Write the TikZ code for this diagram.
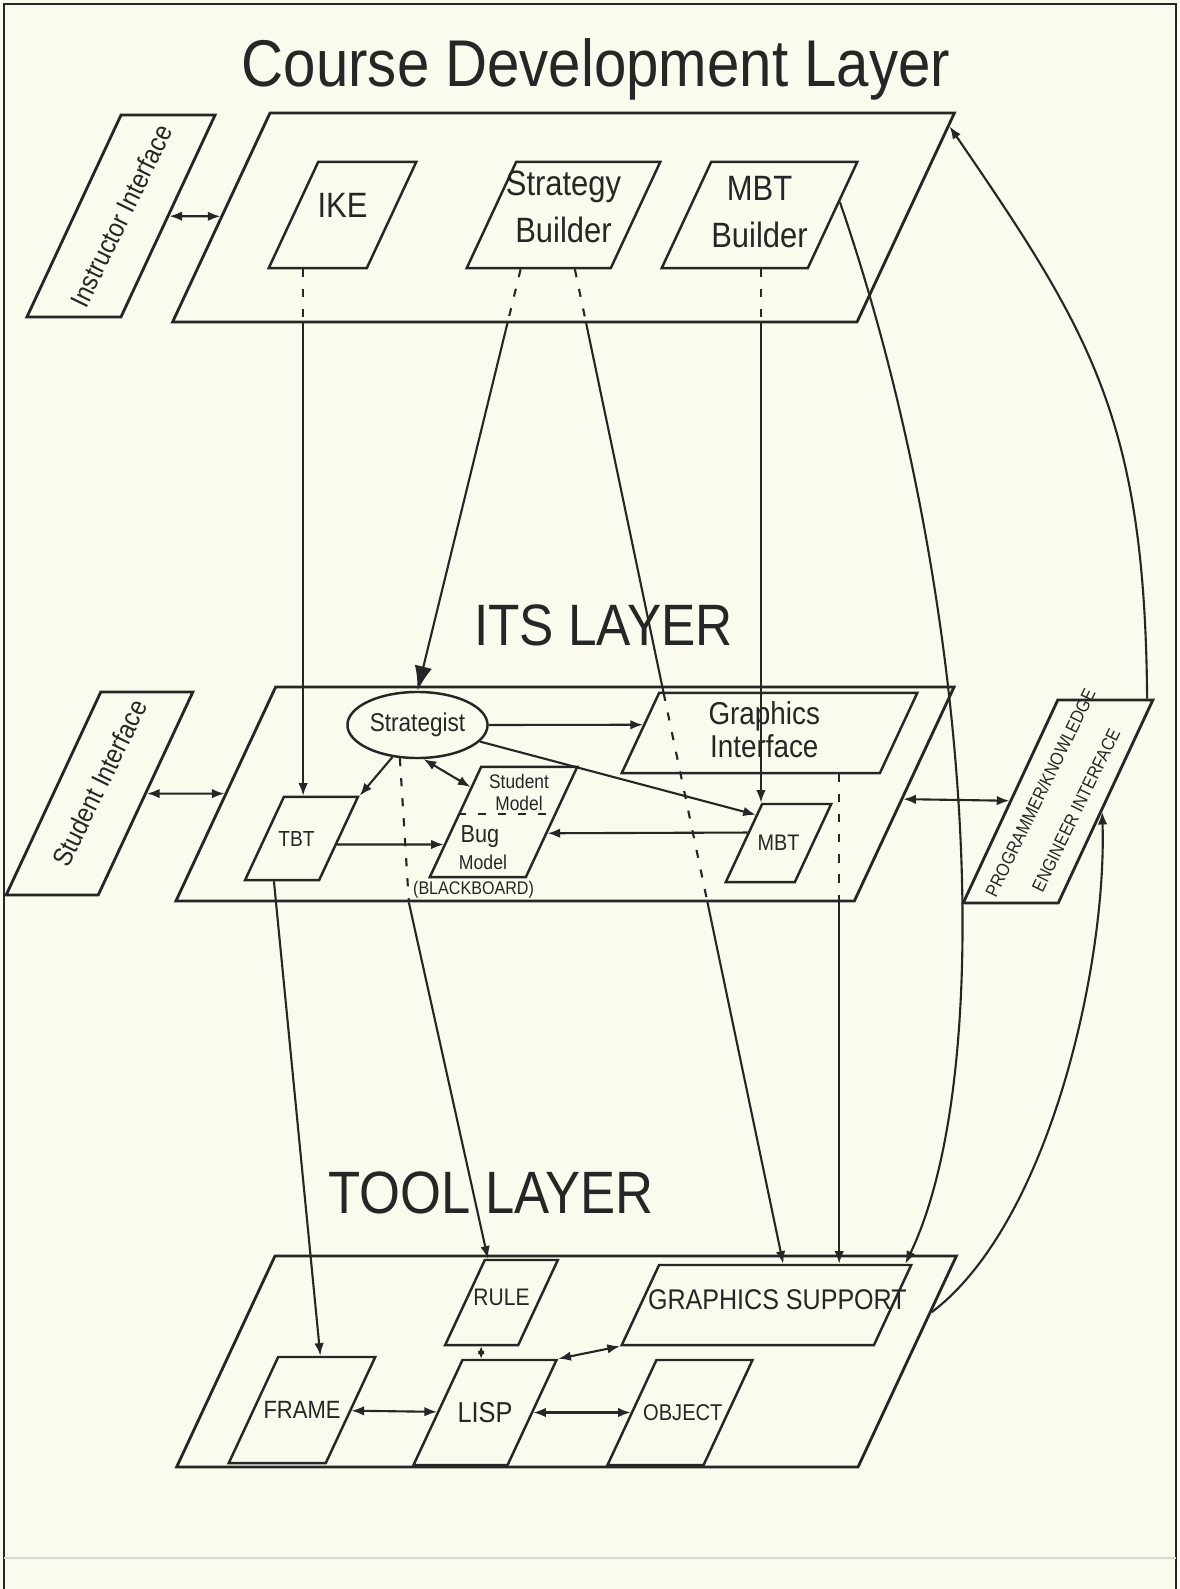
\documentclass[tikz,border=0pt]{standalone}
\usepackage{fontspec}
\setmainfont{Liberation Sans}[FakeStretch=0.88]
\usetikzlibrary{arrows.meta,shapes.geometric,calc}
\definecolor{paper}{HTML}{FAFAEE}
\definecolor{ink}{HTML}{262626}

\begin{document}
\begin{tikzpicture}[
  x=0.01cm, y=-0.01cm,
  >={Latex[length=3.6pt,width=2.7pt]},
  line width=0.6pt,
  layerbox/.style={rectangle, xslant=0.466, draw=ink, line width=0.8pt, inner sep=0pt},
  modbox/.style={layerbox, line width=0.7pt},
  txt/.style={text=ink, inner sep=0pt, align=center},
  flow/.style={->, draw=ink},
  twoway/.style={<->, draw=ink},
  wire/.style={draw=ink},
  dashwire/.style={draw=ink, dash pattern=on 2.3pt off 3.4pt},
  heading/.style={anchor=base, text=ink}
]
  \useasboundingbox (0,0) rectangle (1179,1589);
  \fill[paper] (0,0) rectangle (1179,1589);
  \draw[ink, line width=0.8pt] (4,1589) -- (4,4) -- (1176,4) -- (1176,1589);
  \draw[black!15, line width=0.8pt] (4,1558) -- (1176,1558);

  \node[heading, font=\fontsize{18.8}{22}\selectfont] (cdltitle) at (596,87) {Course Development Layer};
  \node[layerbox, minimum width=6.84cm, minimum height=2.09cm] (cdl) at (563.5,217.5) {};
  \node[layerbox, minimum width=0.94cm, minimum height=2.02cm] (instr) at (121,216) {};
  \node[txt, rotate=64, font=\fontsize{7.7}{10}\selectfont] (instrtxt) at (instr) {Instructor Interface};
  \node[modbox, minimum width=0.98cm, minimum height=1.06cm] (ike) at (342.5,215) {};
  \node[txt, font=\fontsize{10}{12}\selectfont] (iketxt) at ([yshift=2.8pt]ike.center) {IKE};
  \node[modbox, minimum width=1.44cm, minimum height=1.06cm] (sb) at (563.5,215) {};
  \node[txt, font=\fontsize{10}{13.3}\selectfont] (sbtxt) at ([yshift=2.3pt]sb.center) {Strategy\\Builder};
  \node[modbox, minimum width=1.46cm, minimum height=1.06cm] (mbtb) at (759.5,215) {};
  \node[txt, font=\fontsize{10}{13.3}\selectfont] (mbtbtxt) at ([yshift=0.8pt]mbtb.center) {MBT\\Builder};

  \node[heading, font=\fontsize{16.6}{20}\selectfont] (itstitle) at (603.5,645) {ITS LAYER};
  \node[layerbox, minimum width=6.78cm, minimum height=2.14cm] (its) at (565,794) {};
  \node[layerbox, minimum width=0.92cm, minimum height=2.03cm] (stu) at (99.5,793.5) {};
  \node[txt, rotate=64, font=\fontsize{7.7}{10}\selectfont] (stutxt) at ([yshift=3pt]stu.center) {Student Interface};
  \node[layerbox, minimum width=0.95cm, minimum height=2.03cm] (peng) at (1058,801.5) {};
  \node[txt, rotate=64, font=\fontsize{5.2}{11.3}\selectfont] (pengtxt) at (peng) {PROGRAMMER/KNOWLEDGE\\ENGINEER INTERFACE};
  \node[ellipse, draw=ink, line width=0.7pt, minimum width=1.40cm, minimum height=0.66cm, inner sep=0pt,
    text=ink, font=\fontsize{7.3}{9}\selectfont] (strat) at (417.5,725) {Strategist};
  \node[modbox, minimum width=2.58cm, minimum height=0.80cm] (gi) at (769.5,733) {};
  \node[txt, font=\fontsize{9}{9.5}\selectfont] (gitxt) at ([xshift=-1.5pt,yshift=1pt]gi.center) {Graphics\\Interface};
  \node[modbox, minimum width=0.74cm, minimum height=0.83cm] (tbt) at (301.5,838.5) {};
  \node[txt, font=\fontsize{6.2}{7}\selectfont] (tbttxt) at ([xshift=-1.4pt]tbt.center) {TBT};
  \node[modbox, minimum width=0.96cm, minimum height=1.10cm] (bb) at (503.5,822) {};
  \node[txt, font=\fontsize{5.6}{6.2}\selectfont] (bbstu) at (519,792.5) {Student\\Model};
  \node[txt, font=\fontsize{7}{8}\selectfont] (bbbug) at (480,837) {Bug};
  \node[txt, font=\fontsize{5.7}{7}\selectfont] (bbmodel) at (483,862) {Model};
  \node[txt, font=\fontsize{5.2}{6}\selectfont] (bbtag) at (473.5,890) {(BLACKBOARD)};
  \node[modbox, minimum width=0.69cm, minimum height=0.78cm] (mbt) at (778.5,843) {};
  \node[txt, font=\fontsize{6.4}{7}\selectfont] (mbttxt) at (mbt) {MBT};

  \node[heading, font=\fontsize{17}{20}\selectfont] (tooltitle) at (491,1213) {TOOL LAYER};
  \node[layerbox, minimum width=6.81cm, minimum height=2.11cm] (tool) at (566.5,1361.5) {};
  \node[modbox, minimum width=0.73cm, minimum height=0.85cm] (rule) at (501.5,1302.5) {};
  \node[txt, font=\fontsize{6.8}{8}\selectfont] (ruletxt) at ([yshift=1.5pt]rule.center) {RULE};
  \node[modbox, minimum width=2.52cm, minimum height=0.80cm] (gs) at (766.5,1305) {};
  \node[txt, font=\fontsize{8.1}{9}\selectfont] (gstxt) at ([xshift=3.1pt,yshift=1.4pt]gs.center) {GRAPHICS SUPPORT};
  \node[modbox, minimum width=0.97cm, minimum height=1.06cm] (frame) at (302,1410) {};
  \node[txt, font=\fontsize{7.1}{8}\selectfont] (frametxt) at (frame) {FRAME};
  \node[modbox, minimum width=0.94cm, minimum height=1.05cm] (lisp) at (485,1412.5) {};
  \node[txt, font=\fontsize{8.2}{9}\selectfont] (lisptxt) at (lisp) {LISP};
  \node[modbox, minimum width=0.96cm, minimum height=1.05cm] (object) at (680,1412.5) {};
  \node[txt, font=\fontsize{6.5}{8}\selectfont] (objecttxt) at ([xshift=0.8pt]object.center) {OBJECT};

  \coordinate (ikeout) at ($(ike.south west)!0.36!(ike.south east)$);
  \coordinate (sbl) at ($(sb.south west)!0.38!(sb.south east)$);
  \coordinate (sbr) at ($(sb.south west)!0.75!(sb.south east)$);
  \coordinate (mbtbout) at ($(mbtb.south west)!0.68!(mbtb.south east)$);
  \coordinate (gsa) at ($(gs.north west)!0.49!(gs.north east)$);
  \coordinate (gsb) at ($(gs.north west)!0.71!(gs.north east)$);
  \coordinate (bbdrop) at ($(its.south west)!0.345!(its.south east)$);
  \coordinate (ruledrop) at (rule.south);

  \draw[twoway] (instr) -- (cdl);
  \draw[dashwire] (ikeout) -- (ikeout |- cdl.south);
  \draw[flow] (ikeout |- cdl.south) -- (ikeout |- tbt.north);
  \draw[dashwire] (sbl) -- ($(sbl)!0.127!(strat.north)$);
  \draw[-{Latex[length=7pt,width=5pt]}, draw=ink] ($(sbl)!0.127!(strat.north)$) -- (strat.north);
  \draw[dashwire] (sbr) -- ($(sbr)!0.054!(gsa)$);
  \draw[wire] ($(sbr)!0.054!(gsa)$) -- ($(sbr)!0.426!(gsa)$);
  \draw[dashwire] ($(sbr)!0.426!(gsa)$) -- ($(sbr)!0.635!(gsa)$);
  \draw[flow] ($(sbr)!0.635!(gsa)$) -- (gsa);
  \draw[dashwire] (mbtbout) -- (mbtbout |- cdl.south);
  \draw[flow] (mbtbout |- cdl.south) -- (mbtbout |- mbt.north);
  \draw[flow] ($(mbtb.north east)!0.38!(mbtb.south east)$)
    .. controls (971,582) and (1001,1063) .. ($(gs.north west)!0.97!(gs.north east)$);
  \draw[flow] ($(peng.north west)!0.92!(peng.north east)$)
    .. controls (1145,420) and (1091,333) .. ($(cdl.north east)!0.07!(cdl.south east)$);
  \draw[flow] ($(tool.north east)!0.27!(tool.south east)$)
    .. controls (1050,1223) and (1107,962) .. ($(peng.north east)!0.55!(peng.south east)$);

  \draw[twoway] (stu) -- (its);
  \draw[twoway] (its) -- (peng);
  \draw[flow] (strat.east) -- ($(gi.north west)!0.4!(gi.south west)$);
  \draw[flow] (strat) -- ($(mbt.north west)!0.15!(mbt.south west)$);
  \draw[twoway] (strat.-80) -- ($(bb.north west)!0.19!(bb.south west)$);
  \draw[flow] (strat.-128) -- (tbt.north east);
  \draw[dashwire] ($(bb.north west)!0.43!(bb.south west)$) -- ($(bb.north east)!0.43!(bb.south east)$);
  \draw[flow] ($(tbt.north east)!0.57!(tbt.south east)$) -- ($(bb.north west)!0.7!(bb.south west)$);
  \draw[flow] ($(mbt.north west)!0.37!(mbt.south west)$) -- ($(bb.north east)!0.6!(bb.south east)$);
  \draw[dashwire] (strat.-118) -- (bbdrop);
  \draw[flow] (bbdrop) -- ($(rule.north west)!0.05!(rule.north east)$);
  \draw[flow] ($(tbt.south west)!0.4!(tbt.south east)$) -- ($(frame.north west)!0.43!(frame.north east)$);
  \draw[dashwire] (gsb |- gi.south) -- (gsb |- its.south);
  \draw[flow] (gsb |- its.south) -- (gsb);

  \draw[twoway] (frame) -- (lisp);
  \draw[twoway] (lisp) -- (object);
  \draw[{Latex[length=2.2pt,width=2pt]}-{Latex[length=2.2pt,width=2pt]}, draw=ink] (ruledrop) -- (ruledrop |- lisp.north);
  \draw[twoway] (lisp.north east) -- (gs.south west);
\end{tikzpicture}
\end{document}
